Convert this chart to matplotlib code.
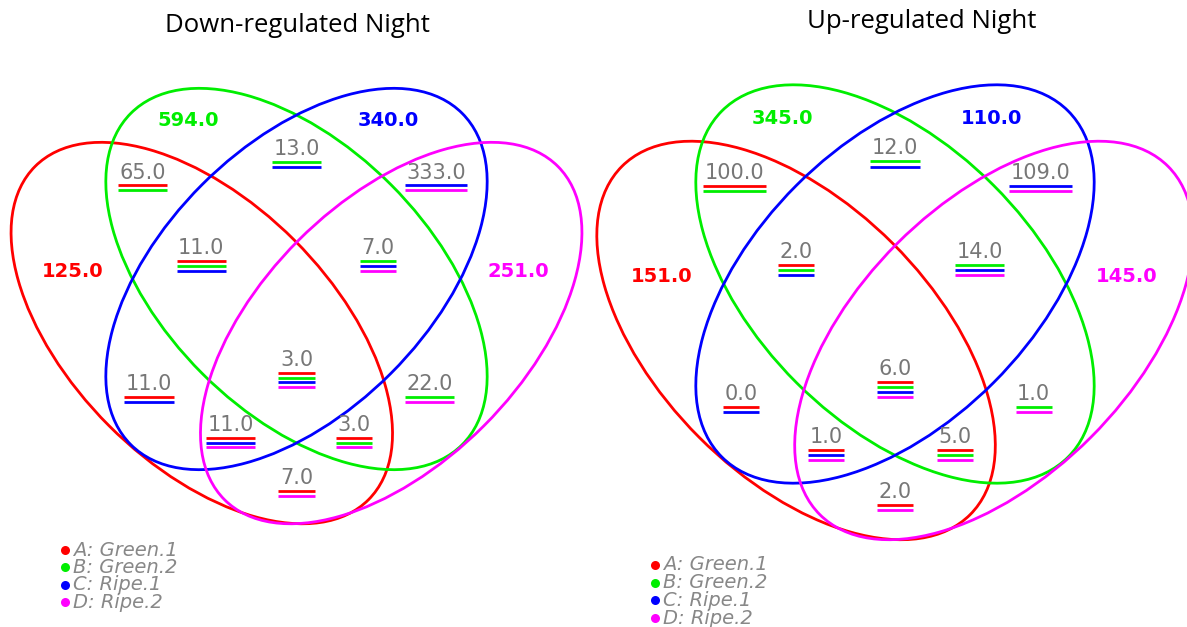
import matplotlib
matplotlib.use('Agg')
import matplotlib.pyplot as plt
from matplotlib.patches import Ellipse

# sets and colours
set_names = ['A: Green.1', 'B: Green.2', 'C: Ripe.1', 'D: Ripe.2']
set_colors = ['#ff0000', '#00ee00', '#0000ff', '#ff00ff']

# venn regions and counts
regions = ['A', 'B', 'C', 'D', 'AB', 'BC', 'CD', 'ABC', 'BCD',
           'AC', 'ABCD', 'BD', 'ACD', 'ABD', 'AD']
down_counts = [125, 594, 340, 251, 65, 13, 333, 11, 7, 11, 3, 22, 11, 3, 7]
up_counts = [151, 345, 110, 145, 100, 12, 109, 2, 14, 0, 6, 1, 1, 5, 2]
titles = ['Down-regulated Night', 'Up-regulated Night']

# label places in diagram units (1 = semi-major axis of the inner ellipses)
label_pos = {
    'A': (-0.952, -0.03), 'B': (-0.459, -0.676), 'C': (0.392, -0.676), 'D': (0.944, -0.03),
    'AB': (-0.655, -0.453), 'BC': (0.0, -0.553), 'CD': (0.594, -0.453),
    'ABC': (-0.405, -0.131), 'BCD': (0.345, -0.131),
    'AC': (-0.628, 0.448), 'ABCD': (0.0, 0.345), 'BD': (0.565, 0.448),
    'ACD': (-0.28, 0.622), 'ABD': (0.246, 0.622), 'AD': (0.0, 0.847),
}
# ellipse centre offsets, semi axes and angle (y grows downwards)
ell_geom = [(-0.403, 0.23, 1.003, 0.558, 45),
            (0.0, 0.0, 0.997, 0.568, 45),
            (0.0, 0.0, 0.997, 0.568, -45),
            (0.403, 0.23, 1.003, 0.558, -45)]

panels = [
    dict(cx=296.5, cy=279, s=235, tx=297, ty=32, lx=65, ly=550, ldy=17.4),
    dict(cx=895, cy=284, s=245.5, tx=922, ty=28, lx=655, ly=565, ldy=17.7),
]

W, H = 1187, 627
fig = plt.figure(figsize=(W / 100, H / 100), dpi=100)
ax = fig.add_axes([0, 0, 1, 1])
ax.set_xlim(0, W)
ax.set_ylim(H, 0)
ax.axis('off')

gray = '#777777'
under = []  # (text, colour list, scale, y)
for p, counts, title in zip(panels, [down_counts, up_counts], titles):
    cx, cy, s = p['cx'], p['cy'], p['s']
    for (dx, dy, a, b, ang), col in zip(ell_geom, set_colors):
        ax.add_patch(Ellipse((cx + dx * s, cy + dy * s), 2 * a * s, 2 * b * s,
                             angle=ang, fill=False, ec=col, lw=2))
    for reg, v in zip(regions, counts):
        x = cx + label_pos[reg][0] * s
        y = cy + label_pos[reg][1] * s
        lab = f'{v:.1f}'
        if len(reg) == 1:
            ax.text(x, y, lab, ha='center', va='center', fontsize=14,
                    fontweight='bold', color=set_colors['ABCD'.index(reg)])
        else:
            t = ax.text(x, y, lab, ha='center', va='center', fontsize=15, color=gray)
            under.append((t, [set_colors['ABCD'.index(c)] for c in reg], s, y))
    ax.text(p['tx'], p['ty'], title, ha='center', va='baseline', fontsize=18.5,
            family='Open Sans', color='black')
    for i, (nm, col) in enumerate(zip(set_names, set_colors)):
        yy = p['ly'] + i * p['ldy']
        ax.plot(p['lx'], yy, 'o', color=col, ms=6.5, mec='none')
        ax.text(p['lx'] + 8, yy, nm, ha='left', va='center', fontsize=14,
                style='italic', color='#888888')

# underlines in the colours of the sets that share the region
fig.canvas.draw()
r = fig.canvas.get_renderer()
inv = ax.transData.inverted()
for t, cols, s, y in under:
    bb = t.get_window_extent(r)
    x0 = inv.transform((bb.x0, 0))[0] - 1.5
    x1 = inv.transform((bb.x1, 0))[0] + 1.5
    for k, col in enumerate(cols):
        yl = y + 0.054 * s + k * 0.0205 * s
        ax.plot([x0, x1], [yl, yl], color=col, lw=2, solid_capstyle='butt')

fig.savefig('out.png', dpi=100)
